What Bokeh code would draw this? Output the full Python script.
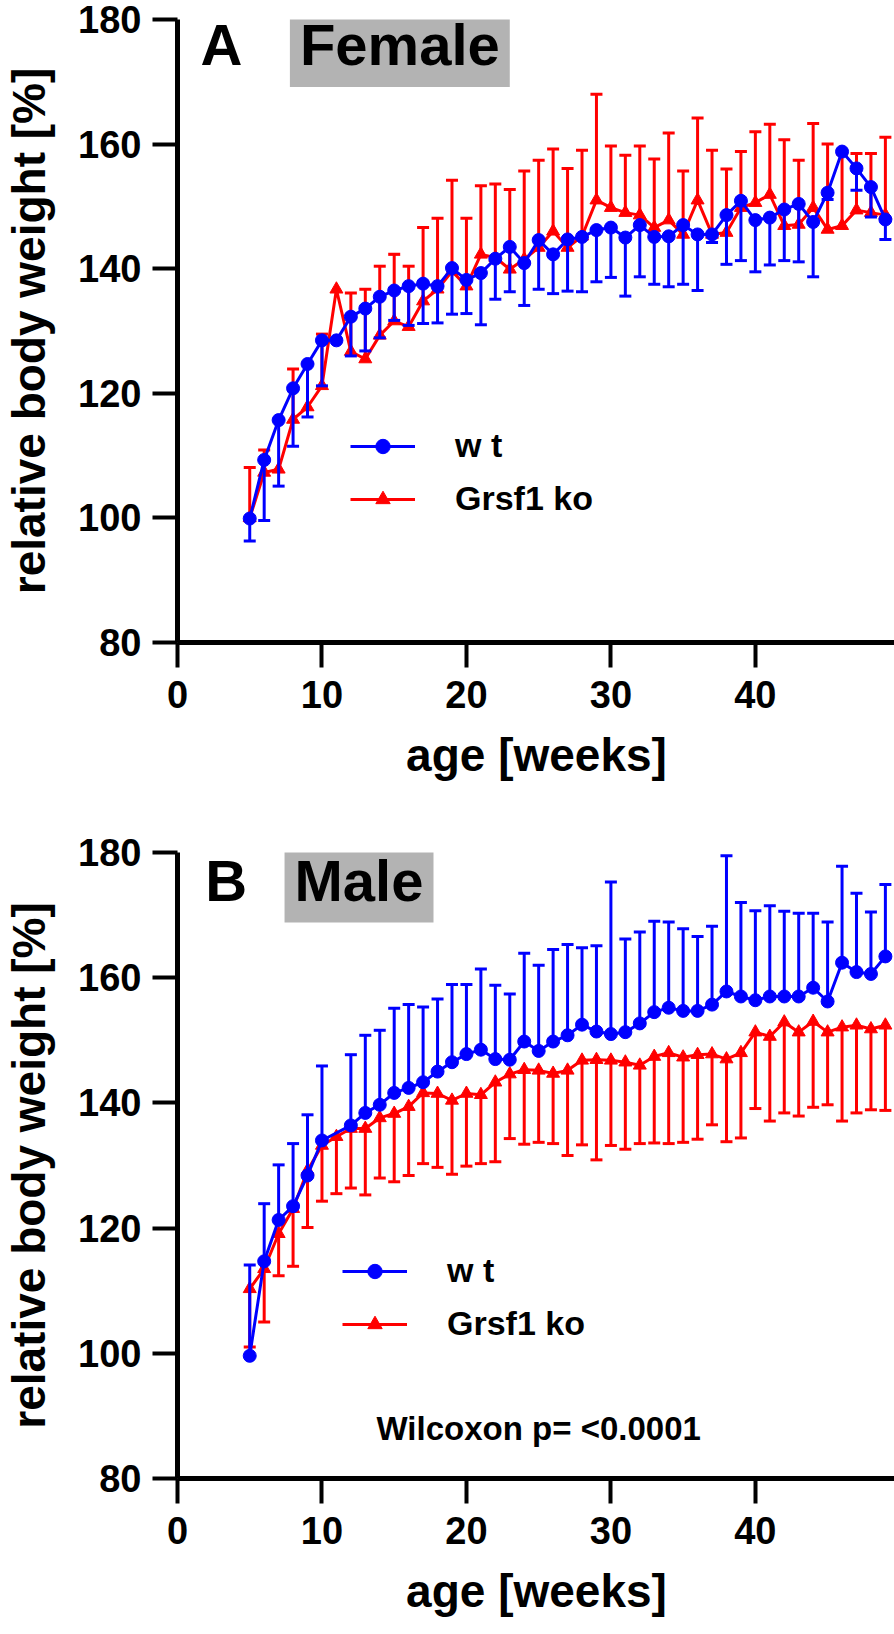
from bokeh.plotting import figure
from bokeh.models import Range1d, FixedTicker, Label, Legend, LegendItem
from bokeh.layouts import column
from bokeh.embed import file_html
from bokeh.resources import INLINE

weeks = list(range(5, 50))

# Panel A (Female)
A_wt_mean = [99.9, 109.3, 115.7, 120.8, 124.7, 128.5, 128.5, 132.3, 133.6, 135.5,
             136.5, 137.2, 137.6, 137.2, 140.1, 138.2, 139.3, 141.6, 143.5, 140.9,
             144.6, 142.3, 144.7, 145.1, 146.2, 146.6, 145.0, 147.0, 145.1, 145.2,
             147.0, 145.5, 145.5, 148.6, 150.9, 147.8, 148.2, 149.5, 150.4, 147.5,
             152.2, 158.8, 156.1, 153.1, 147.9]
A_wt_err_end = [96.3, 99.6, 105.1, 111.5, 116.2, 121.2, 128.5, 126.0, 126.8, 128.9,
                131.7, 130.9, 131.2, 131.3, 132.7, 132.8, 131.0, 135.1, 136.3, 134.1,
                136.7, 136.0, 136.4, 136.3, 137.9, 138.6, 135.6, 138.7, 137.5, 137.1,
                137.5, 136.5, 144.2, 140.7, 141.3, 139.5, 140.6, 141.3, 141.1, 138.7,
                151.1, 158.8, 152.6, 148.3, 144.7]
A_ko_mean = [100.0, 107.3, 107.8, 115.8, 117.8, 121.2, 136.7, 126.7, 125.5, 129.3,
             131.6, 130.7, 134.8, 136.7, 139.6, 137.2, 142.3, 141.8, 139.9, 141.5,
             143.4, 146.0, 143.4, 145.2, 151.0, 149.8, 149.0, 148.6, 146.6, 147.8,
             145.5, 151.0, 145.5, 145.8, 149.8, 150.6, 151.9, 146.9, 147.1, 149.8,
             146.3, 146.9, 149.4, 149.0, 148.6]
A_ko_err_end = [108.1, 110.9, 107.8, 123.9, 117.8, 129.5, 136.7, 136.1, 136.7, 140.4,
                142.3, 140.4, 146.6, 148.1, 154.2, 148.1, 153.3, 153.6, 152.7, 155.7,
                157.4, 159.2, 156.1, 159.0, 168.0, 159.7, 158.2, 159.7, 157.6, 161.8,
                155.7, 164.2, 159.0, 156.0, 158.8, 162.0, 163.2, 160.7, 157.4, 163.3,
                160.0, 158.4, 158.5, 158.5, 161.1]

# Panel B (Male)
B_wt_mean = [99.6, 114.7, 121.3, 123.5, 128.4, 134.0, None, 136.4, 138.4, 139.7,
             141.6, 142.4, 143.3, 145.0, 146.5, 147.8, 148.5, 147.0, 146.9, 149.8,
             148.3, 149.8, 150.8, 152.5, 151.4, 151.0, 151.3, 152.7, 154.5, 155.2,
             154.7, 154.7, 155.7, 157.8, 157.0, 156.4, 157.0, 157.0, 157.0, 158.4,
             156.2, 162.4, 160.9, 160.6, 163.4]
B_wt_err_end = [114.1, 123.9, 130.1, 133.5, 138.1, 145.9, None, 147.7, 150.8, 151.6,
                155.1, 155.7, 155.3, 156.6, 158.9, 158.9, 161.4, 158.8, 157.4, 163.9,
                162.0, 164.5, 165.3, 164.8, 165.1, 175.3, 166.2, 167.3, 169.0, 168.9,
                167.8, 166.6, 168.2, 179.5, 172.0, 170.7, 171.5, 170.6, 170.3, 170.3,
                168.9, 177.8, 173.5, 170.5, 174.9]
B_ko_mean = [110.3, 113.5, 119.1, 123.1, 129.2, 133.2, 134.6, 135.9, 135.9, 137.6,
             138.3, 139.4, 141.6, 141.5, 140.4, 141.5, 141.3, 143.3, 144.6, 145.3,
             145.2, 144.7, 145.2, 146.8, 146.9, 146.8, 146.5, 146.0, 147.4, 148.0,
             147.3, 147.7, 147.8, 147.0, 148.0, 151.3, 150.6, 152.9, 151.3, 153.0,
             151.3, 152.1, 152.4, 151.8, 152.4]
B_ko_err_end = [101.0, 105.0, 112.4, 113.9, 120.1, 124.3, 125.5, 126.4, 125.3, 128.0,
                127.4, 128.4, 130.3, 129.7, 128.6, 129.9, 130.3, 130.6, 134.3, 133.4,
                133.7, 133.5, 131.6, 133.3, 130.9, 133.2, 132.6, 133.5, 133.6, 133.5,
                133.7, 134.2, 136.5, 133.8, 134.4, 139.1, 137.1, 138.4, 137.9, 139.3,
                139.7, 137.1, 138.4, 138.9, 138.8]

x_ticks = [0, 10, 20, 30, 40]
y_ticks = [80, 100, 120, 140, 160, 180]
series_labels = ["w t", "Grsf1 ko"]

FONT = "Liberation Sans"
BLUE = "#0000FF"
RED = "#FF0000"


def clean(xs, means, ends):
    px, pm, pe = [], [], []
    for x, m, e in zip(xs, means, ends):
        if m is None:
            continue
        px.append(x)
        pm.append(m)
        pe.append(e)
    return px, pm, pe


def draw_series(p, means, ends, color, marker, msize):
    xs, ms, es = clean(weeks, means, ends)
    keep = [i for i in range(len(xs)) if es[i] is not None and abs(es[i] - ms[i]) > 0.05]
    bx = [xs[i] for i in keep]
    bm = [ms[i] for i in keep]
    be = [es[i] for i in keep]
    p.segment(x0=bx, y0=bm, x1=bx, y1=be, line_color=color, line_width=3)
    p.scatter(x=bx, y=be, marker="dash", size=12, line_color=color, line_width=3)
    ln = p.line(xs, ms, line_color=color, line_width=3)
    sc = p.scatter(xs, ms, marker=marker, size=msize, fill_color=color, line_color=color)
    return ln, sc


def make_panel(letter, title, wt_mean, wt_end, ko_mean, ko_end, top, fh, bottom,
               letter_x, title_x, text_y, legend_loc, note=None):
    p = figure(width=175 + 718 + 1, height=top + fh + bottom,
               frame_width=718, frame_height=fh,
               min_border_left=175, min_border_right=1,
               min_border_top=top, min_border_bottom=bottom,
               x_range=Range1d(0, 49.7), y_range=Range1d(80, 180),
               output_backend="svg", toolbar_location=None)
    p.outline_line_color = None
    p.xgrid.grid_line_color = None
    p.ygrid.grid_line_color = None
    p.background_fill_color = "white"
    p.border_fill_color = "white"

    for ax, ticks in ((p.xaxis[0], x_ticks), (p.yaxis[0], y_ticks)):
        ax.ticker = FixedTicker(ticks=ticks)
        ax.axis_line_width = 5
        ax.axis_line_color = "black"
        ax.major_tick_line_width = 4
        ax.major_tick_line_color = "black"
        ax.major_tick_out = 25
        ax.major_tick_in = 0
        ax.minor_tick_line_color = None
        ax.major_label_text_font = FONT
        ax.major_label_text_font_style = "bold"
        ax.major_label_text_font_size = "38px"
        ax.major_label_text_color = "black"
        ax.axis_label_text_font = FONT
        ax.axis_label_text_font_style = "bold"
        ax.axis_label_text_font_size = "46px"
        ax.axis_label_text_color = "black"
    p.xaxis.axis_label = "age [weeks]"
    p.xaxis.major_label_standoff = 13
    p.xaxis.axis_label_standoff = 18
    p.yaxis.axis_label = "relative body weight [%]"
    p.yaxis.major_label_standoff = 11
    p.yaxis.axis_label_standoff = 20

    ko_ln, ko_sc = draw_series(p, ko_mean, ko_end, RED, "triangle", 13)
    wt_ln, wt_sc = draw_series(p, wt_mean, wt_end, BLUE, "circle", 13)

    legend = Legend(items=[LegendItem(label=series_labels[0], renderers=[wt_ln, wt_sc]),
                           LegendItem(label=series_labels[1], renderers=[ko_ln, ko_sc])],
                    location=legend_loc, orientation="vertical",
                    glyph_width=65, glyph_height=36, label_height=36,
                    label_standoff=40, spacing=14, padding=0, margin=0,
                    border_line_alpha=0, background_fill_alpha=0,
                    label_text_font=FONT, label_text_font_style="bold",
                    label_text_font_size="34px", label_text_color="black")
    p.add_layout(legend, "center")

    p.add_layout(Label(x=letter_x, y=text_y, text=letter, text_font=FONT,
                       text_font_style="bold", text_font_size="58px", text_color="black",
                       text_baseline="alphabetic", text_align="left"))
    p.add_layout(Label(x=title_x, y=text_y, text=title, text_font=FONT,
                       text_font_style="bold", text_font_size="58px", text_color="black",
                       text_baseline="alphabetic", text_align="left",
                       background_fill_color="#B3B3B3", padding=10))
    if note:
        p.add_layout(Label(x=25.0, y=88.0, text=note, text_font=FONT,
                           text_font_style="bold", text_font_size="33px", text_color="black",
                           text_baseline="middle", text_align="center"))
    return p


pA = make_panel("A", "Female", A_wt_mean, A_wt_err_end, A_ko_mean, A_ko_err_end,
                top=19, fh=623, bottom=158, letter_x=1.6, title_x=7.78, text_y=176.0,
                legend_loc=(173, 124))
pB = make_panel("B", "Male", B_wt_mean, B_wt_err_end, B_ko_mean, B_ko_err_end,
                top=52, fh=626, bottom=156, letter_x=1.92, title_x=7.41, text_y=175.6,
                legend_loc=(165, 135), note="Wilcoxon p= <0.0001")

layout = column(pA, pB, spacing=0)
open("out.html", "w").write(file_html(layout, INLINE))
